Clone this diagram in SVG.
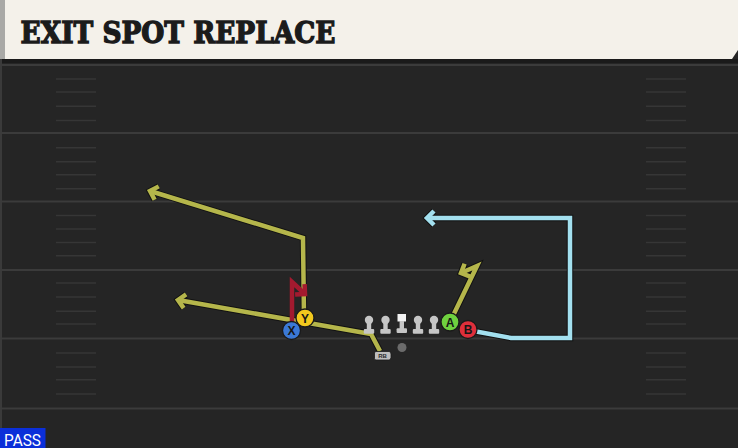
<svg xmlns="http://www.w3.org/2000/svg" xmlns:xlink="http://www.w3.org/1999/xlink" width="738" height="448" viewBox="0 0 738 448">
  <style>
    .yard { stroke: #3b3b3b; stroke-width: 2.2; }
    .hash { stroke: #363636; stroke-width: 1.6; }
    .outline { fill: none; stroke: #121212; stroke-width: 6.5; stroke-linejoin: miter; stroke-linecap: butt; }
    .yellow { fill: none; stroke: #b5b64b; stroke-width: 4.5; stroke-linejoin: miter; stroke-linecap: butt; }
    .cyan { fill: none; stroke: #a3e0ef; stroke-width: 4.5; stroke-linejoin: miter; stroke-linecap: butt; }
    .red { fill: none; stroke: #a31a2f; stroke-width: 4.5; stroke-linejoin: miter; stroke-linecap: butt; }
    .pl { stroke: #1a1a1a; stroke-width: 1.3; }
    .pltext { font-family: "Liberation Sans", Arial, sans-serif; font-weight: bold; font-size: 12px; fill: #161616; text-anchor: middle; }
    .lm { fill: #c6c6c6; }
  </style>
  <defs>
    <marker id="arr-dark" viewBox="-12 -12 24 24" markerWidth="24" markerHeight="24" refX="0" refY="0" orient="auto" markerUnits="userSpaceOnUse" overflow="visible">
      <path d="M-7,-7 L0,0 L-7,7" fill="none" stroke="#121212" stroke-width="6.5" stroke-linejoin="miter"/>
    </marker>
    <marker id="arr-yellow" viewBox="-12 -12 24 24" markerWidth="24" markerHeight="24" refX="0" refY="0" orient="auto" markerUnits="userSpaceOnUse" overflow="visible">
      <path d="M-7,-7 L0,0 L-7,7" fill="none" stroke="#b5b64b" stroke-width="4.5" stroke-linejoin="miter"/>
    </marker>
    <marker id="arr-cyan" viewBox="-12 -12 24 24" markerWidth="24" markerHeight="24" refX="0" refY="0" orient="auto" markerUnits="userSpaceOnUse" overflow="visible">
      <path d="M-7,-7 L0,0 L-7,7" fill="none" stroke="#a3e0ef" stroke-width="4.5" stroke-linejoin="miter"/>
    </marker>
    <marker id="arr-red" viewBox="-12 -12 24 24" markerWidth="24" markerHeight="24" refX="0" refY="0" orient="auto" markerUnits="userSpaceOnUse" overflow="visible">
      <path d="M-7,-7 L0,0 L-7,7" fill="none" stroke="#a31a2f" stroke-width="4.5" stroke-linejoin="miter"/>
    </marker>
    <g id="lineman">
      <circle cx="0" cy="0" r="4.2" class="lm"/>
      <rect x="-2.2" y="2" width="4.4" height="9" class="lm"/>
      <rect x="-5.2" y="9" width="10.4" height="4.8" rx="1" class="lm"/>
    </g>
  </defs>

  <!-- field -->
  <rect x="0" y="0" width="738" height="448" fill="#252525"/>
  <rect x="0" y="59" width="738" height="4" fill="#1a1a1a"/>
  <rect x="0" y="59" width="2" height="389" fill="#3a3a3a"/>

  <g id="yardlines">
    <line class="yard" x1="0" y1="65" x2="738" y2="65"/>
    <line class="yard" x1="0" y1="133" x2="738" y2="133"/>
    <line class="yard" x1="0" y1="201.5" x2="738" y2="201.5"/>
    <line class="yard" x1="0" y1="270" x2="738" y2="270"/>
    <line class="yard" x1="0" y1="338.5" x2="738" y2="338.5"/>
    <line class="yard" x1="0" y1="408.5" x2="738" y2="408.5"/>
  </g>
  <g id="hashes">
    <path class="hash" d="M56,79H96M56,92H96M56,106.3H96M56,120.5H96M56,147.7H96M56,161.7H96M56,174.7H96M56,188.7H96M56,215.5H96M56,229H96M56,242.5H96M56,255.7H96M56,283H96M56,297H96M56,311.3H96M56,324H96M56,353H96M56,367H96M56,379.7H96M56,394H96"/>
    <path class="hash" d="M646,79H686M646,92H686M646,106.3H686M646,120.5H686M646,147.7H686M646,161.7H686M646,174.7H686M646,188.7H686M646,215.5H686M646,229H686M646,242.5H686M646,255.7H686M646,283H686M646,297H686M646,311.3H686M646,324H686M646,353H686M646,367H686M646,379.7H686M646,394H686"/>
  </g>

  <!-- header -->
  <g id="header">
    <polygon points="0,0 738,0 738,50 732,59 0,59" fill="#f4f1ea"/>
    <rect x="0" y="0" width="5" height="59" fill="#a9a9a6"/>
    <text x="20.5" y="43" font-family="'DejaVu Serif', 'Liberation Serif', serif" font-weight="bold" font-size="30" fill="#1b1b1b" stroke="#1b1b1b" stroke-width="1.4" stroke-linejoin="miter" textLength="315" lengthAdjust="spacingAndGlyphs">EXIT SPOT REPLACE</text>
  </g>

  <!-- connectors -->
  <g id="connectors">
    <path class="outline" d="M304,318 L303,238 L150,191" marker-end="url(#arr-dark)"/>
    <path class="yellow" d="M304,318 L303,238 L150,191" marker-end="url(#arr-yellow)"/>
    <path class="outline" d="M380,351 L371,334 L178,300" marker-end="url(#arr-dark)"/>
    <path class="yellow" d="M380,351 L371,334 L178,300" marker-end="url(#arr-yellow)"/>
    <path class="outline" d="M450,322 L477,266 L461,273" marker-end="url(#arr-dark)"/>
    <path class="yellow" d="M450,322 L477,266 L461,273" marker-end="url(#arr-yellow)"/>
    <path class="outline" d="M468,330 L511,338 L570,338 L570,218 L427,218" marker-end="url(#arr-dark)"/>
    <path class="cyan" d="M468,330 L511,338 L570,338 L570,218 L427,218" marker-end="url(#arr-cyan)"/>
    <path class="red" d="M292,330 L292,282 L305,294" marker-end="url(#arr-red)"/>
  </g>

  <!-- offensive line -->
  <g id="lt"><use xlink:href="#lineman" x="369" y="320"/></g>
  <g id="lg"><use xlink:href="#lineman" x="385.5" y="320"/></g>
  <g id="c">
    <rect x="397.5" y="314" width="8.5" height="7.5" fill="#f2f2f2"/>
    <rect x="399.6" y="321" width="4.4" height="8" class="lm"/>
    <rect x="396.6" y="328.2" width="10.4" height="4.8" rx="1" class="lm"/>
  </g>
  <g id="rg"><use xlink:href="#lineman" x="418" y="320"/></g>
  <g id="rt"><use xlink:href="#lineman" x="434" y="320"/></g>

  <g id="qb"><circle cx="402" cy="347.5" r="4.5" fill="#6b6b6b"/></g>
  <g id="rb">
    <path d="M374.5,353 Q374.5,351.5 376,351.5 L389,351.5 Q391,351.5 391,354 L391,358 L389.5,360 L376,360 Q374.5,360 374.5,358.5 Z" fill="#bdbdbd" stroke="#1a1a1a" stroke-width="0.8"/>
    <text x="382.5" y="358.3" font-family="'Liberation Sans', Arial, sans-serif" font-weight="bold" font-size="6" fill="#2a2a2a" text-anchor="middle">RB</text>
  </g>

  <!-- skill players -->
  <g id="y">
    <circle class="pl" cx="305" cy="318" r="9" fill="#f2c81e"/>
    <text class="pltext" x="305" y="322.5">Y</text>
  </g>
  <g id="x">
    <circle class="pl" cx="291.5" cy="330.5" r="9" fill="#3b79d6"/>
    <text class="pltext" x="291.5" y="335">X</text>
  </g>
  <g id="a">
    <circle class="pl" cx="450" cy="322" r="9" fill="#6fd13f"/>
    <text class="pltext" x="450" y="326.5">A</text>
  </g>
  <g id="b">
    <circle class="pl" cx="468" cy="329.5" r="9" fill="#df2f3b"/>
    <text class="pltext" x="468" y="334">B</text>
  </g>

  <!-- play type -->
  <g id="pass-label">
    <rect x="0" y="428" width="45.5" height="20" fill="#0b2fd9"/>
    <text x="4" y="445.5" font-family="Roboto, 'Liberation Sans', sans-serif" font-size="16" fill="#ffffff" textLength="37" lengthAdjust="spacingAndGlyphs">PASS</text>
  </g>
</svg>
